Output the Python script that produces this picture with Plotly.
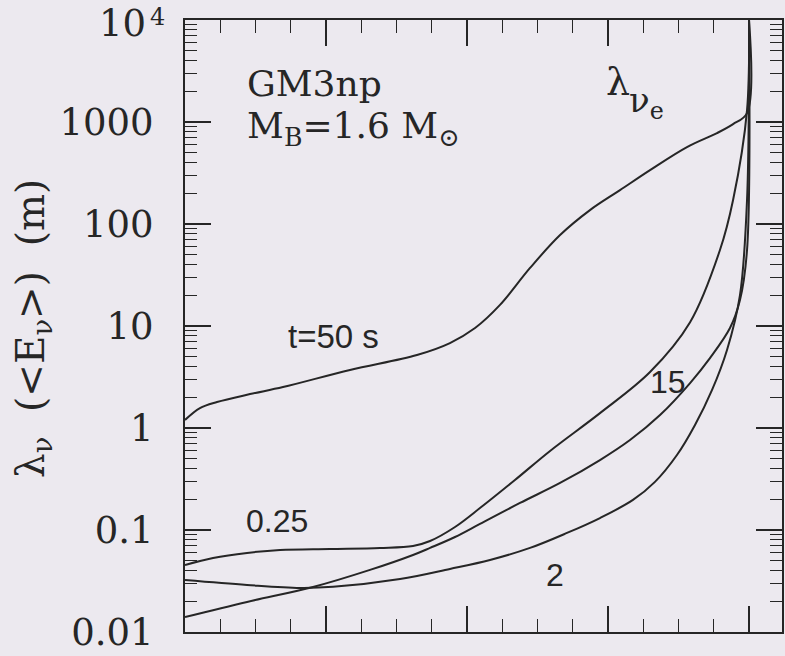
import plotly.graph_objects as go

# ---- data (x: unlabelled radial/mass coordinate, surface at 4.0) ----
x_t50 = [0, 0.106, 0.227, 0.461, 0.695, 1.17, 1.645, 1.879, 2.057, 2.234, 2.447, 2.66, 2.872, 3.085, 3.298, 3.56, 3.773, 3.887, 3.986, 4.0]
y_t50 = [1.2, 1.57, 1.80, 2.15, 2.52, 3.71, 5.2, 6.81, 9.55, 16.1, 37.1, 78, 137, 215, 338, 569, 780, 955, 1225, 10000]

x_t025 = [0, 0.199, 0.44, 0.674, 1.028, 1.383, 1.617, 1.738, 1.915, 2.092, 2.34, 2.589, 2.943, 3.298, 3.582, 3.794, 3.887, 3.986, 4.0]
y_t025 = [0.0454, 0.0531, 0.0596, 0.0637, 0.0652, 0.0667, 0.0697, 0.078, 0.107, 0.164, 0.309, 0.596, 1.40, 3.54, 10.9, 55.6, 172, 1312, 10000]

x_t15 = [0, 0.44, 0.908, 1.312, 1.617, 1.738, 1.915, 2.092, 2.376, 2.66, 2.943, 3.156, 3.369, 3.582, 3.723, 3.865, 3.936, 3.986, 4.0]
y_t15 = [0.014, 0.0197, 0.0276, 0.0406, 0.0569, 0.0667, 0.0853, 0.1146, 0.184, 0.289, 0.485, 0.762, 1.34, 2.76, 4.85, 9.55, 18.0, 55.6, 10000]

x_t2 = [0, 0.44, 0.816, 1.05, 1.525, 1.879, 2.163, 2.447, 2.709, 2.943, 3.177, 3.333, 3.489, 3.617, 3.738, 3.844, 3.936, 3.986, 4.0]
y_t2 = [0.0323, 0.0289, 0.027, 0.0277, 0.033, 0.0415, 0.0508, 0.0667, 0.0935, 0.131, 0.197, 0.296, 0.543, 1.07, 2.36, 5.82, 20.1, 172, 10000]

y_tickvals = [0.01, 0.1, 1, 10, 100, 1000, 10000]
y_ticktext = ["0.01", "0.1", "1", "10", "100", "1000", ""]   # top label "10^4" drawn as text below
top_label_base, top_label_exp = "10", "4"

INK = "#262626"
BG = "#ECE9EF"

fig = go.Figure()
for xs, ys in [(x_t50, y_t50), (x_t025, y_t025), (x_t15, y_t15), (x_t2, y_t2)]:
    fig.add_trace(go.Scatter(x=xs, y=ys, mode="lines",
                             line=dict(color=INK, width=2, shape="spline", smoothing=1.0),
                             showlegend=False, hoverinfo="skip"))

minor_y = [k * 10.0 ** e for e in range(-2, 4) for k in range(2, 10)]

fig.update_xaxes(range=[0, 4.234], showline=True, linecolor=INK, linewidth=2, mirror="allticks",
                 ticks="inside", ticklen=26, tickwidth=1.6, tickcolor=INK, tick0=0, dtick=1,
                 showticklabels=False, showgrid=False, zeroline=False,
                 minor=dict(ticks="inside", ticklen=13, tickwidth=1.4, tickcolor=INK, dtick=0.25, showgrid=False))
fig.update_yaxes(type="log", range=[-2.0005, 4.001], showline=True, linecolor=INK, linewidth=2, mirror="allticks",
                 ticks="inside", ticklen=26, tickwidth=1.6, tickcolor=INK,
                 tickvals=y_tickvals, ticktext=y_ticktext, ticklabelstandoff=22, ticklabeloverflow="allow",
                 tickfont=dict(family="DejaVu Serif", size=37, color=INK),
                 showgrid=False, zeroline=False, automargin=False,
                 minor=dict(ticks="inside", ticklen=12, tickwidth=1.4, tickcolor=INK, tickvals=minor_y, showgrid=False))

def xp(px):
    return (px - 185) / 597.0

def yp(py):
    return (632 - py) / 612.0

serif = dict(family="DejaVu Serif", color=INK)
sans = dict(family="Liberation Sans", color=INK)
ann = [
    dict(text=top_label_base, x=xp(148), y=yp(24), xanchor="right", yanchor="middle", font=dict(size=37, **serif)),
    dict(text=top_label_exp, x=xp(148), y=yp(17), xanchor="left", yanchor="middle", font=dict(size=24, **serif)),
    dict(text="λ<sub>ν</sub>  (&lt;E<sub>ν</sub>&gt;)  (m)", x=xp(33), y=yp(329), textangle=-90,
         xanchor="center", yanchor="middle", font=dict(size=39, **serif)),
    dict(text="GM3np", x=xp(245), y=yp(84), xanchor="left", yanchor="middle", font=dict(size=36, **serif)),
    dict(text="M<sub>B</sub>=1.6 M<sub>⊙</sub>", x=xp(245), y=yp(128), xanchor="left", yanchor="middle",
         font=dict(size=36, **serif)),
    dict(text="λ", x=xp(604), y=yp(82), xanchor="left", yanchor="middle", font=dict(size=38, **serif)),
    dict(text="ν<sub>e</sub>", x=xp(627), y=yp(103), xanchor="left", yanchor="middle", font=dict(size=34, **serif)),
    dict(text="t=50 s", x=xp(333), y=yp(337), xanchor="center", yanchor="middle", font=dict(size=33, **sans)),
    dict(text="15", x=xp(668), y=yp(382), xanchor="center", yanchor="middle", font=dict(size=32, **sans)),
    dict(text="0.25", x=xp(277), y=yp(521), xanchor="center", yanchor="middle", font=dict(size=32, **sans)),
    dict(text="2", x=xp(555), y=yp(575), xanchor="center", yanchor="middle", font=dict(size=32, **sans)),
]
for a in ann:
    fig.add_annotation(xref="paper", yref="paper", showarrow=False, **a)

fig.update_layout(width=785, height=656, margin=dict(l=185, r=3, t=20, b=24, autoexpand=False),
                  paper_bgcolor=BG, plot_bgcolor=BG)

fig.write_html("out.html")
